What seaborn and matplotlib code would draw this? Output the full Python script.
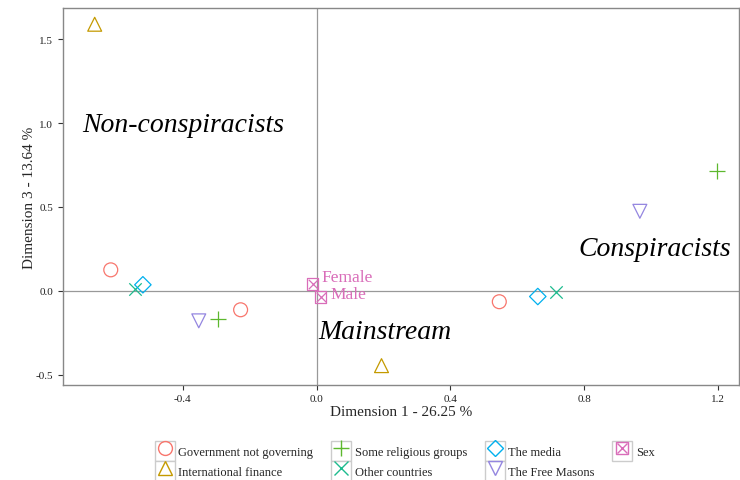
import matplotlib.pyplot as plt
import matplotlib.patches as mpatches
import pandas as pd
import seaborn as sns
from matplotlib.legend_handler import HandlerTuple
from matplotlib.lines import Line2D

sns.set_style("ticks")
plt.rcParams["font.family"] = ["Liberation Serif", "DejaVu Serif"]

# MCA coordinates
category = (
    ["Government not governing"] * 3
    + ["International finance"] * 2
    + ["Some religious groups"] * 2
    + ["Other countries"] * 2
    + ["The media"] * 2
    + ["The Free Masons"] * 2
    + ["Sex"] * 2
)
dim1 = [-0.615, -0.227, 0.546, -0.663, 0.194, -0.296, 1.197, -0.543, 0.716,
        -0.519, 0.661, -0.352, 0.966, -0.012, 0.012]
dim3 = [0.125, -0.113, -0.065, 1.589, -0.446, -0.167, 0.714, 0.012, -0.006,
        0.036, -0.034, -0.179, 0.474, 0.042, -0.036]
point_label = [""] * 13 + ["Female", "Male"]

groups = ["Government not governing", "International finance",
          "Some religious groups", "Other countries", "The media",
          "The Free Masons", "Sex"]
region_names = ["Non-conspiracists", "Conspiracists", "Mainstream"]
region_x = [-0.40, 1.01, 0.205]
region_y = [0.99, 0.25, -0.245]

colors = ["#F8766D", "#C49A00", "#5DB82E", "#1DBB8E", "#00B0EE", "#9486E0", "#D96DB9"]
markers = ["o", "^", "+", "x", "D", "v", "s"]

df = pd.DataFrame({"cat": category, "d1": dim1, "d3": dim3, "lab": point_label})

fig = plt.figure(figsize=(7.4, 4.81), dpi=100)
ax = fig.add_axes([0.085, 0.198, 0.914, 0.783])

ax.axhline(0, color="#999999", lw=0.9, zorder=0)
ax.axvline(0, color="#999999", lw=0.9, zorder=0)

handles = []
for g, c, m in zip(groups, colors, markers):
    sub = df[df["cat"] == g]
    if m == "+":
        kws = dict(color=c, s=130, linewidth=0.9)
    elif m == "x":
        kws = dict(color=c, s=80, linewidth=0.9)
    else:
        size = 100
        if m in ("s", "D"):
            size = 70
        kws = dict(facecolor="none", edgecolor=c, s=size, linewidth=0.9)
    sns.scatterplot(data=sub, x="d1", y="d3", marker=m, ax=ax, legend=False, **kws)
    if g == "Sex":
        sns.scatterplot(data=sub, x="d1", y="d3", marker="x", color=c, s=45,
                        linewidth=0.9, ax=ax, legend=False)
        for _, r in sub.iterrows():
            dy = 0.038 if r["d3"] > 0 else 0.016
            ax.text(r["d1"] + 0.028, r["d3"] + dy, r["lab"],
                    color=c, fontsize=12.5, va="center", ha="left")
    box = mpatches.Rectangle((0, 0), 1, 1, facecolor="white", edgecolor="#cccccc", lw=1)
    if g == "Sex":
        mk = (Line2D([], [], marker="s", color=c, mfc="none", ls="none", ms=8),
              Line2D([], [], marker="x", color=c, ls="none", ms=7))
        handles.append((box,) + mk)
    elif m in ("+", "x"):
        handles.append((box, Line2D([], [], marker=m, color=c, ls="none", ms=12 if m == "+" else 10)))
    else:
        handles.append((box, Line2D([], [], marker=m, color=c, mfc="none", ls="none",
                                    ms=8 if m == "D" else 10)))

for name, x, y in zip(region_names, region_x, region_y):
    ax.text(x, y, name, fontsize=20, style="italic", ha="center", va="center", color="black")

ax.set_xlim(-0.758, 1.263)
ax.set_ylim(-0.56, 1.685)
ax.set_xticks([-0.4, 0.0, 0.4, 0.8, 1.2])
ax.set_yticks([-0.5, 0.0, 0.5, 1.0, 1.5])
ax.set_xticklabels(["-0.4", "0.0", "0.4", "0.8", "1.2"])
ax.set_yticklabels(["-0.5", "0.0", "0.5", "1.0", "1.5"])
ax.tick_params(labelsize=8, length=3.5, width=0.8, color="#333333", labelcolor="#222222")
ax.set_xlabel("Dimension 1 - 26.25 %", fontsize=11, labelpad=1)
ax.set_ylabel("Dimension 3 - 13.64 %", fontsize=11, labelpad=0)
for sp in ax.spines.values():
    sp.set_color("#888888")
    sp.set_linewidth(1)

fig.legend(handles, groups,
           handler_map={tuple: HandlerTuple(ndivide=1, pad=0)},
           loc="lower center", bbox_to_anchor=(0.547, -0.02), ncol=4, frameon=False,
           fontsize=9, handlelength=1.6, handleheight=2.1, handletextpad=0.3,
           labelspacing=0.0, columnspacing=1.4, borderpad=0.2)

fig.savefig("out.png", dpi=100)
